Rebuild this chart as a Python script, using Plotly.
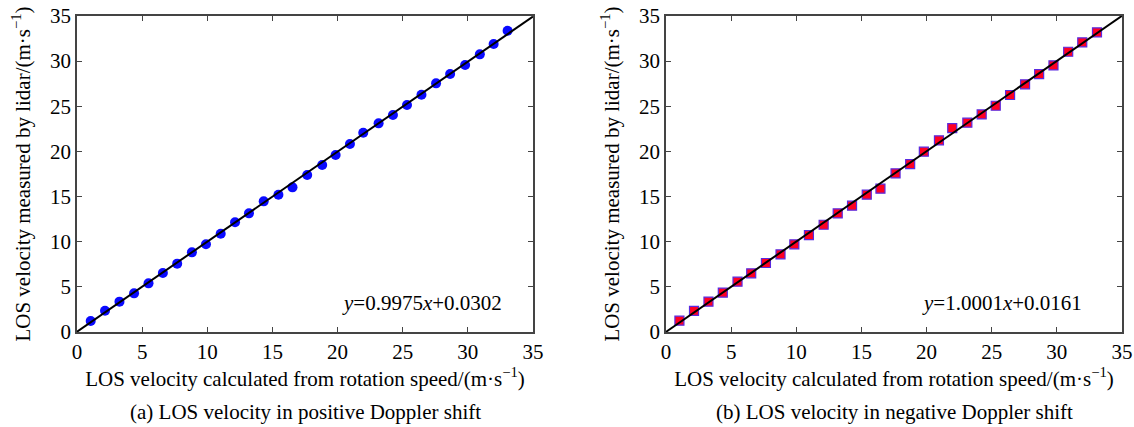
import plotly.graph_objects as go

# Panel (a): positive Doppler shift
x_pos = [1.05, 2.15, 3.26, 4.38, 5.49, 6.59, 7.69, 8.82, 9.90, 11.03,
         12.13, 13.20, 14.33, 15.46, 16.54, 17.67, 18.82, 19.85, 20.95, 21.97,
         23.15, 24.25, 25.33, 26.44, 27.56, 28.64, 29.79, 30.92, 31.98, 33.05]
y_pos = [1.22, 2.36, 3.36, 4.28, 5.39, 6.53, 7.57, 8.82, 9.71, 10.89,
         12.15, 13.14, 14.47, 15.21, 16.02, 17.39, 18.49, 19.60, 20.82, 22.07,
         23.11, 24.03, 25.14, 26.28, 27.54, 28.57, 29.57, 30.75, 31.89, 33.37]
# Panel (b): negative Doppler shift
x_neg = [1.03, 2.15, 3.26, 4.36, 5.49, 6.54, 7.67, 8.79, 9.85, 10.97,
         12.10, 13.18, 14.28, 15.41, 16.46, 17.62, 18.74, 19.79, 20.95, 21.97,
         23.13, 24.23, 25.31, 26.41, 27.56, 28.64, 29.74, 30.87, 31.95, 33.08]
y_neg = [1.25, 2.33, 3.36, 4.36, 5.57, 6.50, 7.64, 8.60, 9.71, 10.74,
         11.88, 13.14, 13.99, 15.21, 15.87, 17.57, 18.60, 19.97, 21.23, 22.59,
         23.18, 24.10, 25.06, 26.25, 27.43, 28.57, 29.53, 31.04, 32.08, 33.19]

fit_a = [0.9975, 0.0302]
fit_b = [1.0001, 0.0161]
line_x = [0, 35]
ticks = [0, 5, 10, 15, 20, 25, 30, 35]

xlabel = "LOS velocity calculated from rotation speed/(m·s<sup>−1</sup>)"
ylabel = "LOS velocity measured by lidar/(m·s<sup>−1</sup>)"
captions = ["(a) LOS velocity in positive Doppler shift",
            "(b) LOS velocity in negative Doppler shift"]

FONT = "Liberation Serif"
FS = 21
W, H = 1134, 427

fig = go.Figure()

fig.add_trace(go.Scatter(x=x_pos, y=y_pos, mode="markers", xaxis="x", yaxis="y",
                         marker=dict(symbol="circle", size=10, color="#0a0aff",
                                     line=dict(width=0)), showlegend=False))
fig.add_trace(go.Scatter(x=line_x, y=[fit_a[0] * v + fit_a[1] for v in line_x],
                         mode="lines", xaxis="x", yaxis="y",
                         line=dict(color="black", width=2), showlegend=False))

fig.add_trace(go.Scatter(x=x_neg, y=y_neg, mode="markers", xaxis="x2", yaxis="y2",
                         marker=dict(symbol="square", size=9, color="#ff0022",
                                     line=dict(width=1.2, color="#5a2adf")), showlegend=False))
fig.add_trace(go.Scatter(x=line_x, y=[fit_b[0] * v + fit_b[1] for v in line_x],
                         mode="lines", xaxis="x2", yaxis="y2",
                         line=dict(color="black", width=2), showlegend=False))

axis_common = dict(range=[0, 35], tickvals=ticks, ticks="inside", ticklen=5,
                   tickcolor="#444", mirror="ticks", showline=True, linecolor="#444",
                   linewidth=1.5, showgrid=False, zeroline=False, automargin=False,
                   tickfont=dict(family=FONT, size=FS, color="black"))

def title(text, standoff):
    return dict(text=text, standoff=standoff, font=dict(family=FONT, size=FS, color="black"))

fig.update_layout(
    width=W, height=H, margin=dict(l=0, r=0, t=0, b=0, autoexpand=False),
    paper_bgcolor="white", plot_bgcolor="white",
    font=dict(family=FONT, size=FS, color="black"),
    xaxis=dict(domain=[77 / W, 533 / W], anchor="y", title=title(xlabel, 4), **axis_common),
    yaxis=dict(domain=[1 - 332 / H, 1 - 16 / H], anchor="x", title=title(ylabel, 14), **axis_common),
    xaxis2=dict(domain=[666 / W, 1122 / W], anchor="y2", title=title(xlabel, 4), **axis_common),
    yaxis2=dict(domain=[1 - 332 / H, 1 - 16 / H], anchor="x2", title=title(ylabel, 14), **axis_common),
)

fig.add_annotation(x=32.8, y=3.2, xref="x", yref="y", xanchor="right", yanchor="middle",
                   text=f"<i>y</i>={fit_a[0]:.4f}<i>x</i>+{fit_a[1]:.4f}", showarrow=False,
                   font=dict(family=FONT, size=FS, color="black"))
fig.add_annotation(x=32.1, y=3.2, xref="x2", yref="y2", xanchor="right", yanchor="middle",
                   text=f"<i>y</i>={fit_b[0]:.4f}<i>x</i>+{fit_b[1]:.4f}", showarrow=False,
                   font=dict(family=FONT, size=FS, color="black"))

for cx, cap in zip([305 / W, 894 / W], captions):
    fig.add_annotation(x=cx, y=1 - 412 / H, xref="paper", yref="paper", text=cap,
                       showarrow=False, xanchor="center", yanchor="middle",
                       font=dict(family=FONT, size=FS, color="black"))

fig.write_html("out.html", config={"displayModeBar": False},
               post_script="document.body.style.margin='0';document.body.style.overflow='hidden';")
